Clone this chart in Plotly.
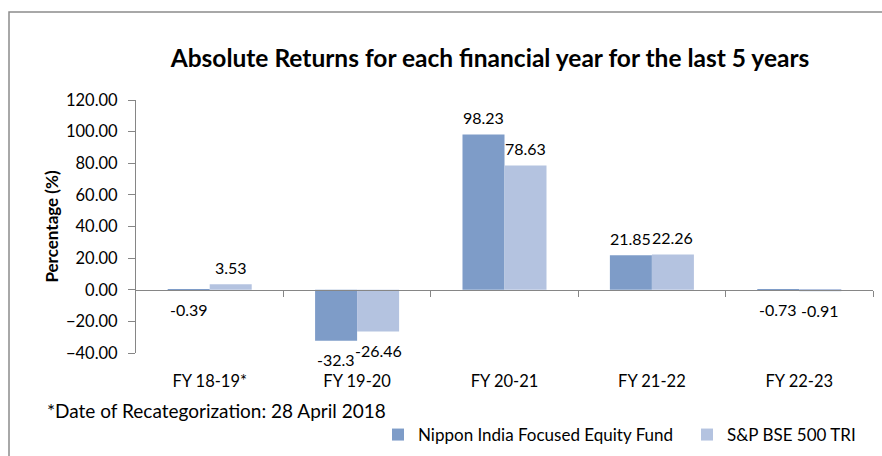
import plotly.graph_objects as go

categories = ["FY 18-19*", "FY 19-20", "FY 20-21", "FY 21-22", "FY 22-23"]
fund_name = "Nippon India Focused Equity Fund"
bench_name = "S&P BSE 500 TRI"
fund_values = [-0.39, -32.3, 98.23, 21.85, -0.73]
bench_values = [3.53, -26.46, 78.63, 22.26, -0.91]
fund_labels = ["-0.39", "-32.3", "98.23", "21.85", "-0.73"]
bench_labels = ["3.53", "-26.46", "78.63", "22.26", "-0.91"]
y_ticks = [-40, -20, 0, 20, 40, 60, 80, 100, 120]

FUND_COLOR = "#7E9CC8"
BENCH_COLOR = "#B4C3E0"
FONT = "Lato"
W, H = 882, 456
L, R, T, B = 136, 9, 100, 103
pw, ph = W - L - R, H - T - B

fig = go.Figure()
fig.add_trace(go.Bar(x=categories, y=fund_values, name=fund_name,
                     marker=dict(color=FUND_COLOR, line=dict(width=0))))
fig.add_trace(go.Bar(x=categories, y=bench_values, name=bench_name,
                     marker=dict(color=BENCH_COLOR, line=dict(width=0))))
# invisible helper trace so the zero-line category axis gets drawn
fig.add_trace(go.Scatter(x=[None], y=[None], xaxis="x2", yaxis="y", mode="markers",
                         showlegend=False, hoverinfo="skip"))

annotations = []
for vals, labs, shift in ((fund_values, fund_labels, -21), (bench_values, bench_labels, 21)):
    for c, v, t in zip(categories, vals, labs):
        annotations.append(dict(x=c, y=v, text=t, showarrow=False, xshift=shift,
                                yshift=17 if v >= 0 else -19, yanchor="middle",
                                font=dict(family=FONT, size=16, color="#000")))

annotations.append(dict(xref="paper", yref="paper", x=(45 - L) / pw, y=(H - B - 410) / ph,
                        xanchor="left", yanchor="middle", showarrow=False,
                        text="*Date of Recategorization: 28 April 2018",
                        font=dict(family=FONT, size=19, color="#000")))

fig.update_layout(
    width=W, height=H,
    margin=dict(l=L, r=R, t=T, b=B),
    paper_bgcolor="white", plot_bgcolor="white",
    font=dict(family=FONT, size=16.5, color="#000"),
    title=dict(text="<b>Absolute Returns for each financial year for the last 5 years</b>",
               x=490 / W, xanchor="center", y=1 - 58 / H, yanchor="middle",
               font=dict(family=FONT, size=24.5, color="#000")),
    barmode="group", bargap=0.43, bargroupgap=0,
    showlegend=True,
    legend=dict(orientation="h", xref="container", yref="container",
                x=378 / W, y=1 - 435 / H, xanchor="left", yanchor="middle",
                font=dict(family=FONT, size=17), itemwidth=30,
                tracegroupgap=0, entrywidth=264),
    xaxis=dict(type="category", categoryorder="array", categoryarray=categories,
               showline=False, showgrid=False, zeroline=False, ticks="",
               ticklabelstandoff=16, tickfont=dict(family=FONT, size=16.5)),
    xaxis2=dict(overlaying="x", anchor="free", position=40 / 160, type="linear",
                range=[-0.5, len(categories) - 0.5],
                tickvals=[i + 0.5 for i in range(len(categories))],
                showticklabels=False, ticks="outside", ticklen=6, tickcolor="#868686",
                showline=True, linecolor="#868686", linewidth=1, showgrid=False,
                zeroline=False, side="bottom"),
    yaxis=dict(range=[-40, 120], tickvals=y_ticks, tickformat=".2f",
               showgrid=False, zeroline=False, showline=True, linecolor="#868686",
               linewidth=1, ticks="outside", ticklen=7, tickcolor="#868686",
               ticklabelstandoff=7,
               tickfont=dict(family=FONT, size=16.5),
               title=dict(text="<b>Percentage (%)</b>", standoff=3,
                          font=dict(family=FONT, size=17))),
    annotations=annotations,
    shapes=[dict(type="rect", xref="paper", yref="paper",
                 x0=(9 - L) / pw, x1=(W + 20 - L) / pw,
                 y0=(H - B - (H + 20)) / ph, y1=(H - B - 12) / ph,
                 line=dict(color="#8C8C8C", width=1.5), fillcolor="rgba(0,0,0,0)",
                 layer="below")],
)
fig.write_html("out.html")
